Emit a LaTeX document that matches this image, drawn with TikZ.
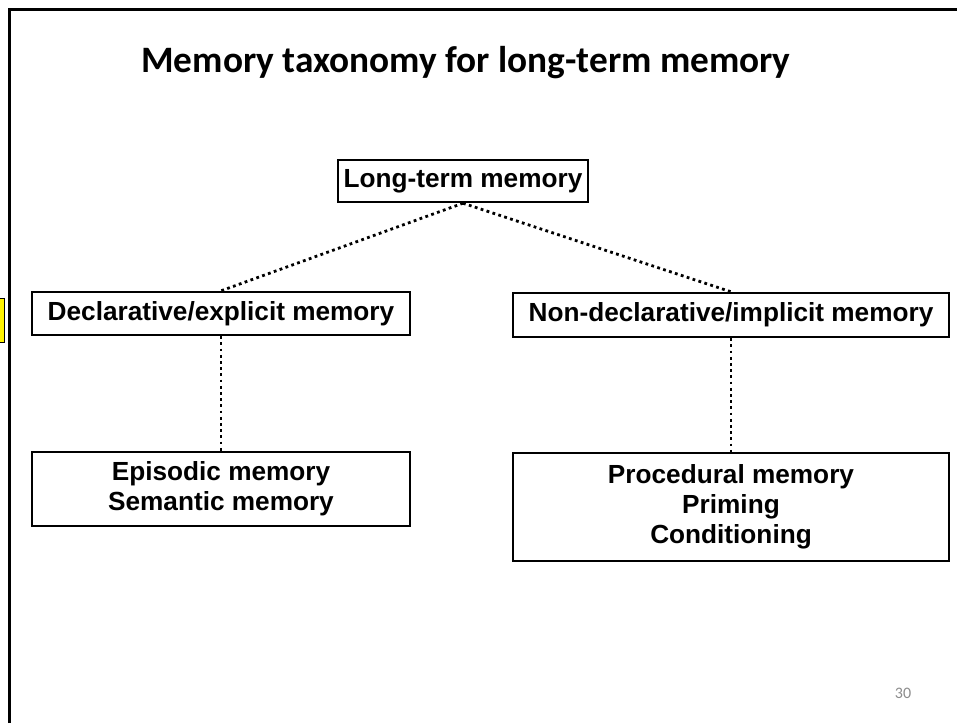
\documentclass[tikz,border=0pt]{standalone}
\usepackage{fontspec}
\setmainfont{Liberation Sans}
\newfontfamily\carlito{Carlito}
\begin{document}
\begin{tikzpicture}[x=1pt,y=-1pt,
  box/.style={draw=black, line width=2.4pt, inner sep=0pt, align=center,
    font=\bfseries\fontsize{26.2}{30}\selectfont},
  dotline/.style={line width=2.8pt, dash pattern=on 2.8pt off 3.4pt}]
\useasboundingbox (0,0) rectangle (957,723);
\fill[white] (0,0) rectangle (957,723);
% slide frame
\draw[line width=3pt] (9.5,723) -- (9.5,9.5) -- (957,9.5);
% clipped yellow note at the left edge
\draw[fill=yellow, line width=1pt] (-10,298) rectangle (4.5,342);
% title
\node[font=\carlito\bfseries\fontsize{37.3}{42}\selectfont] (title) at (466,63) {Memory taxonomy for long-term memory};
% boxes
\node[box, minimum width=250pt, minimum height=42pt] (ltm) at (463,181) {Long-term memory};
\node[box, minimum width=378pt, minimum height=43pt] (decl) at (221,313.5) {Declarative/explicit memory};
\node[box, minimum width=436pt, minimum height=44pt] (nondecl) at (731,315) {Non-declarative/implicit memory};
\node[box, minimum width=378pt, minimum height=74pt] (epi) at (221,489) {Episodic memory\\Semantic memory};
\node[box, minimum width=436pt, minimum height=108pt] (proc) at (731,507) {Procedural memory\\Priming\\Conditioning};
% page number
\node[font=\carlito\fontsize{16}{18}\selectfont, text=black!45] (pg) at (903,693.5) {30};
% connectors
\draw[dotline] (ltm.south) -- (decl.north);
\draw[dotline] (ltm.south) -- (nondecl.north);
\draw[dotline] (decl.south) -- (epi.north);
\draw[dotline] (nondecl.south) -- (proc.north);
\end{tikzpicture}
\end{document}
